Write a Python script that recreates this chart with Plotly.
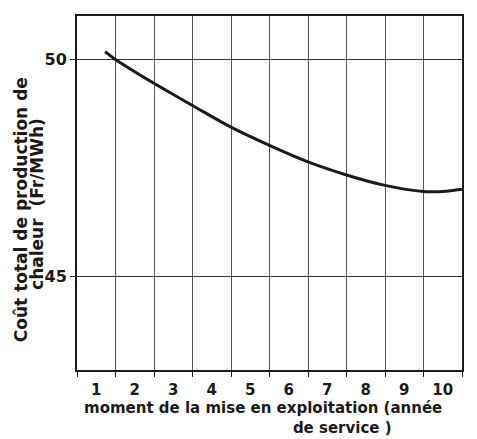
import plotly.graph_objects as go

# Data (x in "year of service" cells, y in Fr/MWh)
YEAR_POS = [1.23, 1.5, 2.5, 3.5, 4.5, 5.5, 6.5, 7.5, 8.5, 9.5, 10.0, 10.5]
COST = [50.18, 50.0, 49.45, 48.94, 48.44, 48.02, 47.64, 47.34, 47.10, 46.96, 46.96, 47.01]
YEAR_LABELS = ['1', '2', '3', '4', '5', '6', '7', '8', '9', '10']
YEAR_TICKS = [1, 2, 3, 4, 5, 6, 7, 8, 9, 10]
COST_TICKS = [45, 50]

FONT = 'DejaVu Sans, Arial, sans-serif'
INK = '#1a1a1a'

fig = go.Figure()

fig.add_trace(go.Scatter(
    x=YEAR_POS,
    y=COST,
    mode='lines',
    line=dict(color=INK, width=3, shape='spline', smoothing=1.0),
    showlegend=False,
))

fig.update_xaxes(
    range=[0.5, 10.5],
    tickvals=YEAR_TICKS,
    ticktext=YEAR_LABELS,
    ticks='',
    showgrid=False,
    showline=True, mirror=True, linecolor=INK, linewidth=2,
    tickfont=dict(family=FONT, size=15, color=INK, weight='bold'),
    ticklabelstandoff=5,
    minor=dict(tick0=0.5, dtick=1, ticks='outside', ticklen=5, tickcolor=INK,
               showgrid=True, gridcolor='#555555', gridwidth=1),
    zeroline=False,
)

fig.update_yaxes(
    range=[42.85, 51.0],
    tickvals=COST_TICKS,
    ticks='outside', ticklen=5, tickcolor=INK,
    showgrid=True, gridcolor='#333333', gridwidth=1,
    showline=True, mirror=True, linecolor=INK, linewidth=2,
    tickfont=dict(family=FONT, size=16, color=INK, weight='bold'),
    zeroline=False,
)

# Axis titles as free annotations (they are not centred in the original)
fig.add_annotation(text='<b>Coût total de production de</b>', textangle=-90,
                   xref='paper', yref='paper', x=-0.145, y=0.452,
                   xanchor='center', yanchor='middle',
                   showarrow=False, font=dict(family=FONT, size=17, color=INK))
fig.add_annotation(text='<b>chaleur  (Fr/MWh)</b>', textangle=-90,
                   xref='paper', yref='paper', x=-0.104, y=0.469,
                   xanchor='center', yanchor='middle',
                   showarrow=False, font=dict(family=FONT, size=17, color=INK))
# x title: second line sits right of centre, pushed over with non-breaking spaces
fig.add_annotation(text='<b>moment de la mise en exploitation (année<br>'
                        + '&nbsp;' * 40 + 'de service )</b>',
                   xref='paper', yref='paper', x=0.016, y=-0.137,
                   xanchor='left', yanchor='middle', align='left', borderpad=0,
                   showarrow=False, font=dict(family=FONT, size=15, color=INK))

# the page body keeps its 8px default margin, so the figure is 8px smaller
fig.update_layout(
    width=469, height=431,
    margin=dict(l=69, r=15, t=6, b=69),
    paper_bgcolor='white',
    plot_bgcolor='white',
)

fig.write_html('out.html')
